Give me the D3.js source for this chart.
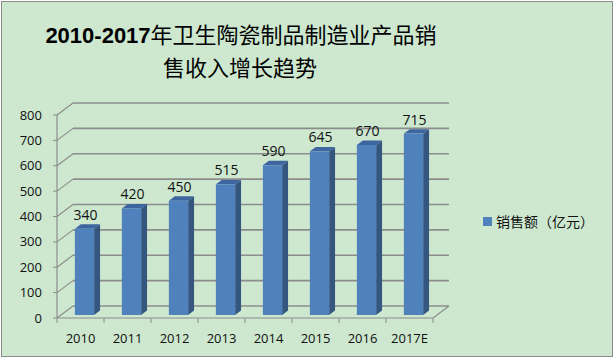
<!DOCTYPE html>
<html><head><meta charset="utf-8">
<script src="https://cdn.jsdelivr.net/npm/d3@7"></script>
<style>body{margin:0;background:#fff}svg{display:block}</style>
</head><body>
<svg id="c" width="615" height="360"></svg>
<script>
const categories = ["2010","2011","2012","2013","2014","2015","2016","2017E"];
const values = [340,420,450,515,590,645,670,715];
const yTicks = [0,100,200,300,400,500,600,700,800];
const seriesName = "销售额（亿元）";

const svg = d3.select("#c");
const W=615,H=360;
svg.append("rect").attr("x",0).attr("y",0).attr("width",W).attr("height",H).attr("fill","#fff");
svg.append("rect").attr("x",1.5).attr("y",1.5).attr("width",611).attr("height",355)
  .attr("fill","#CDE8CF").attr("stroke","#8a8a8a").attr("stroke-width",1);

// title
const t = svg.append("text").attr("text-anchor","middle").attr("font-size",22)
  .attr("font-family","Noto Sans CJK SC, sans-serif").attr("fill","#000");
t.append("tspan").attr("x",241).attr("y",43).attr("font-weight","bold")
  .attr("font-family","Liberation Sans, sans-serif").text("2010-2017");
t.append("tspan").attr("font-weight","normal").text("年卫生陶瓷制品制造业产品销");
svg.append("text").attr("x",240).attr("y",76).attr("text-anchor","middle").attr("font-size",22)
  .attr("font-weight","normal").attr("font-family","Noto Sans CJK SC, sans-serif").text("售收入增长趋势");

// geometry
const x0=57,x1=433,yBase=318,yTop=115;
const DX=16, DY=-12;
const y = d3.scaleLinear().domain([0,800]).range([yBase,yTop]);
const x = d3.scaleBand().domain(categories).range([x0,x1]);
const g = svg.append("g");
const grid="#8c8c8c";

// back wall gridlines + left wall diagonals
yTicks.forEach(v=>{
  g.append("line").attr("x1",x0+DX).attr("x2",x1+DX).attr("y1",y(v)+DY).attr("y2",y(v)+DY)
    .attr("stroke",grid).attr("stroke-width",1.6);
  g.append("line").attr("x1",x0).attr("x2",x0+DX).attr("y1",y(v)).attr("y2",y(v)+DY)
    .attr("stroke",grid).attr("stroke-width",1.2);
});
// floor
g.append("line").attr("x1",x0).attr("x2",x1).attr("y1",yBase).attr("y2",yBase).attr("stroke",grid).attr("stroke-width",1.2);
g.append("line").attr("x1",x1).attr("x2",x1+DX).attr("y1",yBase).attr("y2",yBase+DY).attr("stroke",grid).attr("stroke-width",1.2);
// y axis line
g.append("line").attr("x1",x0).attr("x2",x0).attr("y1",yTop).attr("y2",yBase).attr("stroke",grid).attr("stroke-width",1.2);
// y ticks
yTicks.forEach(v=>{
  g.append("line").attr("x1",x0-4).attr("x2",x0).attr("y1",y(v)).attr("y2",y(v)).attr("stroke",grid);
  g.append("text").attr("x",42).attr("y",y(v)).attr("dy","0.35em").attr("text-anchor","end")
    .attr("font-size",13).attr("font-family","Open Sans, sans-serif").attr("fill","#111").text(v);
});
// x ticks
categories.concat(["_end"]).forEach((c,i)=>{
  const xx = i<categories.length ? x(c) : x1;
  g.append("line").attr("x1",xx).attr("x2",xx).attr("y1",yBase).attr("y2",yBase+5).attr("stroke",grid);
});
categories.forEach(c=>{
  g.append("text").attr("x",x(c)+x.bandwidth()/2).attr("y",343).attr("text-anchor","middle")
    .attr("font-size",13).attr("font-family","Open Sans, sans-serif").attr("fill","#111").text(c);
});

// bars
const d0=0.25, d1=0.62;
const bw = x.bandwidth()*0.41;
categories.forEach((c,i)=>{
  const v=values[i];
  const cx = x(c)+x.bandwidth()/2;
  const fx = cx-bw/2 + DX*d0, fy0 = yBase + DY*d0, fy1 = y(v)+DY*d0;
  const ox = DX*(d1-d0), oy = DY*(d1-d0);
  g.append("path").attr("d",`M${fx+bw},${fy0}L${fx+bw+ox},${fy0+oy}L${fx+bw+ox},${fy1+oy}L${fx+bw},${fy1}Z`)
    .attr("fill","#35567f");
  g.append("path").attr("d",`M${fx},${fy1}L${fx+ox},${fy1+oy}L${fx+bw+ox},${fy1+oy}L${fx+bw},${fy1}Z`)
    .attr("fill","#3d66a0");
  g.append("rect").attr("x",fx).attr("y",fy1).attr("width",bw).attr("height",fy0-fy1).attr("fill","#4F81BD");
  g.append("text").attr("x",fx+bw/2+1).attr("y",fy1-9).attr("text-anchor","middle")
    .attr("font-size",14).attr("font-family","Open Sans, sans-serif").attr("fill","#111").text(v);
});

// legend
svg.append("rect").attr("x",483).attr("y",217).attr("width",9).attr("height",9).attr("fill","#4F81BD");
svg.append("text").attr("x",496).attr("y",222).attr("dy","0.35em").attr("font-size",14)
  .attr("font-family","Noto Sans CJK SC, sans-serif").attr("fill","#111").text(seriesName);
</script>
</body></html>
